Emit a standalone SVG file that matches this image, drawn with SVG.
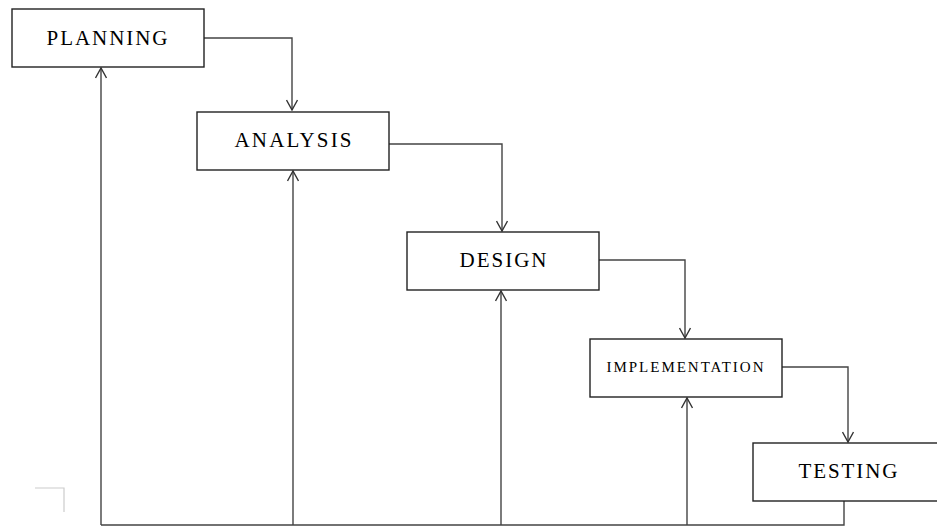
<svg xmlns="http://www.w3.org/2000/svg" width="937" height="527" viewBox="0 0 937 527">
<style>
.box{fill:#fff;stroke:#222;stroke-width:1.4}
.lbl{font-family:"Liberation Serif","Times New Roman",serif;font-size:21px;fill:#000;text-anchor:middle}
.small{font-size:15px}
.con{fill:none;stroke:#444;stroke-width:1.4}
</style>
<defs>
<marker id="arr" viewBox="0 0 12 12" refX="11" refY="6" markerWidth="12" markerHeight="12" markerUnits="userSpaceOnUse" orient="auto">
<path d="M1,0.5 L11,6 L1,11.5" fill="none" stroke="#333" stroke-width="1.4"/>
</marker>
</defs>
<rect width="937" height="527" fill="#fff"/>
<g id="connectors">
<path class="con" d="M204,38 H292 V110" marker-end="url(#arr)"/>
<path class="con" d="M389,144 H502 V231" marker-end="url(#arr)"/>
<path class="con" d="M599,260 H685 V338" marker-end="url(#arr)"/>
<path class="con" d="M782,367 H848 V442" marker-end="url(#arr)"/>
<path class="con" d="M844,501 V525 H101"/>
<path class="con" d="M101,525 V68" marker-end="url(#arr)"/>
<path class="con" d="M293,525 V171" marker-end="url(#arr)"/>
<path class="con" d="M501,525 V291" marker-end="url(#arr)"/>
<path class="con" d="M687,525 V398" marker-end="url(#arr)"/>
</g>
<g id="planning">
<rect class="box" x="12" y="9" width="192" height="58"/>
<text class="lbl" x="107" y="45" textLength="121" lengthAdjust="spacing">PLANNING</text>
</g>
<g id="analysis">
<rect class="box" x="197" y="112" width="192" height="58"/>
<text class="lbl" x="293" y="147" textLength="117" lengthAdjust="spacing">ANALYSIS</text>
</g>
<g id="design">
<rect class="box" x="407" y="232" width="192" height="58"/>
<text class="lbl" x="503" y="267" textLength="87" lengthAdjust="spacing">DESIGN</text>
</g>
<g id="implementation">
<rect class="box" x="590" y="339" width="192" height="58"/>
<text class="lbl small" x="685" y="372" textLength="157" lengthAdjust="spacing">IMPLEMENTATION</text>
</g>
<g id="testing">
<rect class="box" x="753" y="443" width="190" height="58"/>
<text class="lbl" x="848" y="478" textLength="99" lengthAdjust="spacing">TESTING</text>
</g>
<path d="M35,488 H64 V512" fill="none" stroke="#ccc" stroke-width="1.2"/>
</svg>
